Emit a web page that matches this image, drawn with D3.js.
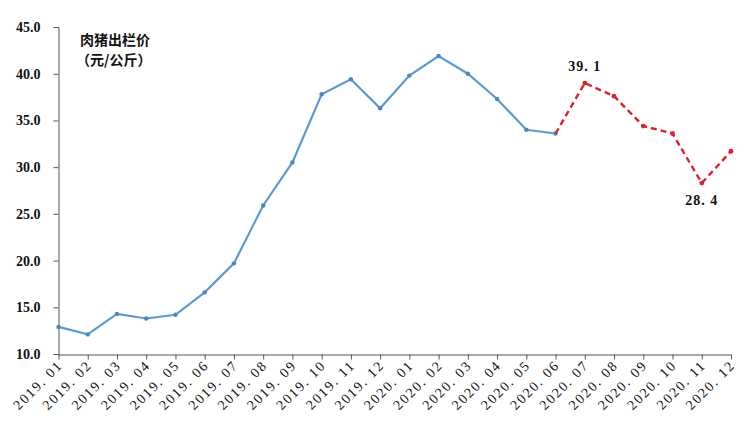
<!DOCTYPE html>
<html><head><meta charset="utf-8">
<script src="https://cdn.jsdelivr.net/npm/d3@7"></script>
<style>body{margin:0;background:#fff}svg{display:block}</style>
</head><body>
<svg id="c" width="750" height="439"></svg>
<script>
const months = ["2019.01","2019.02","2019.03","2019.04","2019.05","2019.06","2019.07","2019.08","2019.09","2019.10","2019.11","2019.12","2020.01","2020.02","2020.03","2020.04","2020.05","2020.06","2020.07","2020.08","2020.09","2020.10","2020.11","2020.12"];
const actual = [12.9,12.1,14.3,13.8,14.2,16.6,19.7,25.9,30.5,37.8,39.4,36.3,39.8,41.9,40.0,37.3,34.0,33.6];
const forecast = [33.6,39.0,37.6,34.4,33.6,28.3,31.7];
const forecastStart = 17;
const yTicks = [10,15,20,25,30,35,40,45];
const annotations = [{i:18,text:"39.1",dy:-12},{i:22,text:"28.4",dy:22}];

const svg = d3.select("#c");
const x = d3.scalePoint().domain(months).range([58.5,731]);
const y = d3.scaleLinear().domain([10,45]).range([354,27]);

const yAxis = svg.append("g").attr("transform","translate(58.5,0)")
  .call(d3.axisLeft(y).tickValues(yTicks).tickFormat(d3.format(".1f")).tickSizeOuter(0).tickSize(5).tickPadding(13));
yAxis.select(".domain").attr("stroke","#555");
yAxis.selectAll(".tick line").attr("stroke","#555");
yAxis.selectAll("text").attr("font-family","'Liberation Serif', serif").attr("font-weight","bold").attr("font-size","14px").attr("fill","#111");

const xAxis = svg.append("g").attr("transform","translate(0,354.5)")
  .call(d3.axisBottom(x).tickSize(5).tickSizeOuter(0).tickFormat(""));
xAxis.select(".domain").attr("stroke","#555");
xAxis.selectAll(".tick line").attr("stroke","#555");
svg.append("g").selectAll("text").data(months).join("text")
  .attr("transform",d=>`translate(${x(d)+5},${366}) rotate(-45)`)
  .attr("text-anchor","end")
  .attr("font-family","'Liberation Serif', serif").attr("font-size","14px")
  .attr("letter-spacing","1.8px").attr("fill","#111")
  .text(d=>d.replace(".",". "));

const line = d3.line().x(d=>x(d[0])).y(d=>y(d[1]));
const actData = actual.map((v,i)=>[months[i],v]);
const fData = forecast.map((v,i)=>[months[forecastStart+i],v]);
svg.append("path").attr("d",line(actData)).attr("fill","none").attr("stroke","#5b9bd5").attr("stroke-width",2.2);
svg.append("g").selectAll("circle").data(actData).join("circle")
  .attr("cx",d=>x(d[0])).attr("cy",d=>y(d[1])).attr("r",2.2).attr("fill","#4a86c0");
svg.append("path").attr("d",line(fData)).attr("fill","none").attr("stroke","#e0202a").attr("stroke-width",2.4).attr("stroke-dasharray","6,4");
svg.append("g").selectAll("circle").data(fData.slice(1)).join("circle")
  .attr("cx",d=>x(d[0])).attr("cy",d=>y(d[1])).attr("r",2.4).attr("fill","#e0202a");

svg.append("g").selectAll("text").data(annotations).join("text")
  .attr("x",d=>x(months[d.i])).attr("y",d=>y(forecast[d.i-forecastStart])+d.dy)
  .attr("text-anchor","middle").attr("font-family","'Liberation Serif', serif")
  .attr("font-weight","bold").attr("font-size","14px").attr("letter-spacing","1px").attr("fill","#111")
  .text(d=>d.text.replace(".",". "));

svg.append("text").attr("x",80).attr("y",45).attr("font-family","'Noto Sans CJK SC'").attr("font-weight","bold").attr("font-size","14px").attr("fill","#111").text("肉猪出栏价");
svg.append("text").attr("x",76).attr("y",65).attr("font-family","'Noto Sans CJK SC'").attr("font-weight","bold").attr("font-size","14px").attr("fill","#111").text("（元/公斤）");
</script>
</body></html>
